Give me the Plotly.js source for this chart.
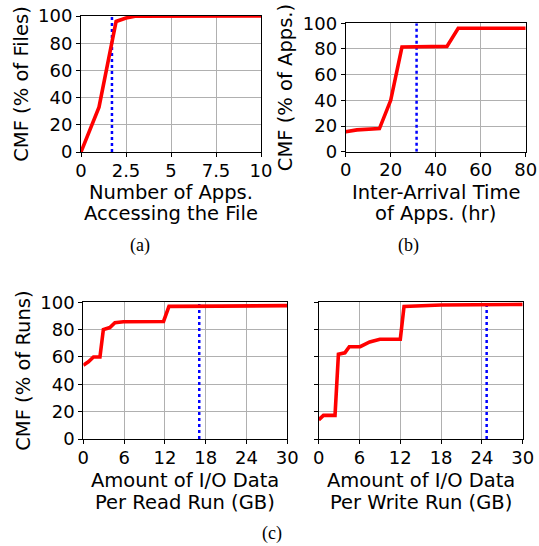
<!DOCTYPE html>
<html><head><meta charset="utf-8">
<script src="https://cdn.plot.ly/plotly-3.0.1.min.js"></script>
<style>html,body{margin:0;padding:0;background:#fff}#c{width:539px;height:546px}</style>
</head><body><div id="c"></div>
<script>
// Data
const appsX = [0, 1, 1.95, 2.5, 3, 10];
const appsY = [0, 33, 96, 98.5, 99.8, 100];
const appsMark = 1.72;

const iatX = [0, 5, 15, 20, 25, 45, 50, 80];
const iatY = [15.5, 17, 18, 40, 81.5, 82, 96.2, 96.2];
const iatMark = 31.5;

const readX = [0, 0.75, 1.5, 2.45, 2.95, 3.9, 4.65, 5.9, 11.8, 12.6, 20, 30];
const readY = [54, 56.5, 60, 60, 80, 81.5, 85, 85.8, 86, 97, 97.2, 97.6];
const readMark = 17.05;

const writeX = [0, 0.7, 2.4, 2.9, 3.85, 4.5, 6.1, 7.5, 9.0, 12.0, 12.55, 18, 30];
const writeY = [14, 17.3, 17.3, 62, 63, 67.5, 67.5, 71, 73, 73, 97, 98, 98.5];
const writeMark = 24.7;

const xTitles = [
  ['Number of Apps.', 'Accessing the File'],
  ['Inter-Arrival Time', 'of Apps. (hr)'],
  ['Amount of I/O Data', 'Per Read Run (GB)'],
  ['Amount of I/O Data', 'Per Write Run (GB)']
];
const yTitles = ['CMF (% of Files)', 'CMF (% of Apps.)', 'CMF (% of Runs)'];
const panelLabels = ['(a)', '(b)', '(c)'];

const W = 539, H = 546;
function xd(a, b) { return [a / W, b / W]; }
function yd(top, bot) { return [1 - bot / H, 1 - top / H]; }

const red = {color: '#ff0000', width: 3.6};
const blue = {color: '#0000ff', width: 2.5, dash: 'dot'};
const tf = {family: 'DejaVu Sans, sans-serif', size: 18, color: '#000'};
const ttf = {family: 'DejaVu Sans, sans-serif', size: 19.5, color: '#000'};

function tr(x, y, ax) {
  return {x: x, y: y, type: 'scatter', mode: 'lines', line: red, xaxis: 'x' + ax, yaxis: 'y' + ax, hoverinfo: 'none'};
}
function vl(m, ax) {
  return {x: [m, m], y: [0, 100], type: 'scatter', mode: 'lines', line: blue, xaxis: 'x' + ax, yaxis: 'y' + ax, hoverinfo: 'none'};
}

const data = [
  vl(appsMark, ''), tr(appsX, appsY, ''),
  vl(iatMark, 2), tr(iatX, iatY, 2),
  vl(readMark, 3), tr(readX, readY, 3),
  vl(writeMark, 4), tr(writeX, writeY, 4)
];

function xa(dom, range, tv, tt, anchor) {
  return {
    domain: dom, range: range, tickvals: tv, ticktext: tt, anchor: anchor,
    showgrid: true, gridcolor: '#b0b0b0', gridwidth: 1,
    showline: true, linecolor: '#000', linewidth: 1, mirror: true,
    ticks: 'outside', ticklen: 4, tickcolor: '#000', zeroline: false,
    tickfont: tf, ticklabelstandoff: -2, automargin: false
  };
}
function ya(dom, title, anchor, showlabels) {
  return {
    domain: dom, range: [0, 100], tickvals: [0, 20, 40, 60, 80, 100], anchor: anchor,
    showticklabels: showlabels,
    showgrid: true, gridcolor: '#b0b0b0', gridwidth: 1,
    showline: true, linecolor: '#000', linewidth: 1, mirror: true,
    ticks: 'outside', ticklen: 4, tickcolor: '#000', zeroline: false,
    tickfont: tf, title: {text: title, font: ttf, standoff: 4}, automargin: false
  };
}

const xDom = [[81, 261], [345.7, 525.7], [83.3, 287.3], [318.7, 522.7]];
const titleY = [[192, 213.5], [192, 213.5], [480, 502], [480, 502]];

const annotations = [];
xTitles.forEach(function (lines, i) {
  const cx = (xDom[i][0] + xDom[i][1]) / 2 / W;
  lines.forEach(function (t, j) {
    annotations.push({text: t, x: cx, y: 1 - titleY[i][j] / H, xref: 'paper', yref: 'paper',
      xanchor: 'center', yanchor: 'middle', showarrow: false, font: ttf});
  });
});
const lf = {family: 'Liberation Serif, serif', size: 18, color: '#000'};
const labelPos = [[140, 246], [408, 246], [272, 533]];
panelLabels.forEach(function (t, i) {
  annotations.push({text: t, x: labelPos[i][0] / W, y: 1 - labelPos[i][1] / H, xref: 'paper', yref: 'paper',
    xanchor: 'center', yanchor: 'middle', showarrow: false, font: lf});
});

const layout = {
  width: W, height: H, margin: {l: 0, r: 0, t: 0, b: 0},
  paper_bgcolor: '#fff', plot_bgcolor: '#fff', showlegend: false,
  xaxis: xa(xd(xDom[0][0], xDom[0][1]), [0, 10], [0, 2.5, 5, 7.5, 10], ['0', '2.5', '5', '7.5', '10'], 'y'),
  yaxis: ya(yd(16, 152), yTitles[0], 'x', true),
  xaxis2: xa(xd(xDom[1][0], xDom[1][1]), [0, 80], [0, 20, 40, 60, 80], ['0', '20', '40', '60', '80'], 'y2'),
  yaxis2: ya(yd(23.3, 151.7), yTitles[1], 'x2', true),
  xaxis3: xa(xd(xDom[2][0], xDom[2][1]), [0, 30], [0, 6, 12, 18, 24, 30], ['0', '6', '12', '18', '24', '30'], 'y3'),
  yaxis3: ya(yd(302.3, 439), yTitles[2], 'x3', true),
  xaxis4: xa(xd(xDom[3][0], xDom[3][1]), [0, 30], [0, 6, 12, 18, 24, 30], ['0', '6', '12', '18', '24', '30'], 'y4'),
  yaxis4: ya(yd(302.3, 439), '', 'x4', false),
  annotations: annotations
};

Plotly.newPlot('c', data, layout, {displayModeBar: false, staticPlot: true});
</script></body></html>
